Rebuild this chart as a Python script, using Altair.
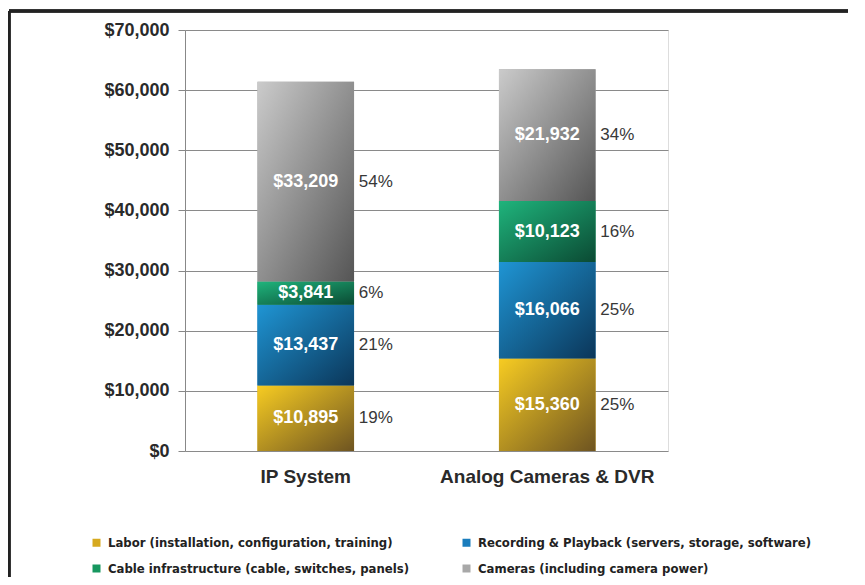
import altair as alt
import pandas as pd

systems = ["IP System", "Analog Cameras & DVR"]
components = [
    "Labor (installation, configuration, training)",
    "Recording & Playback (servers, storage, software)",
    "Cable infrastructure (cable, switches, panels)",
    "Cameras (including camera power)",
]
ip_values = [10895, 13437, 3841, 33209]
analog_values = [15360, 16066, 10123, 21932]
ip_pct = [19, 21, 6, 54]
analog_pct = [25, 25, 16, 34]
y_ticks = [0, 10000, 20000, 30000, 40000, 50000, 60000, 70000]

flat_colors = ["#d6a91f", "#1a7dbd", "#17975f", "#a8a8a8"]
gradients = [
    ("#f7cc22", "#6e5421"),
    ("#1f95d4", "#0b3659"),
    ("#1fb47c", "#0b4a33"),
    ("#cbcbcb", "#555555"),
]
# legend reading order (column-major fill gives two rows as in the original)
legend_order = [0, 2, 1, 3]

rows = []
for s, vals, pcts in [(systems[0], ip_values, ip_pct), (systems[1], analog_values, analog_pct)]:
    for i, (c, v, p) in enumerate(zip(components, vals, pcts)):
        rows.append({"system": s, "component": c, "order": i, "value": v, "pct": p})
df = pd.DataFrame(rows)

FONT = "Liberation Sans"
LEGEND_FONT = "Liberation Sans Narrow, DejaVu Sans Condensed, Roboto Condensed, Liberation Sans"

base = alt.Chart(df).transform_stack(
    stack="value", groupby=["system"], sort=[alt.SortField("order")], as_=["y0", "y1"]
).transform_calculate(
    mid="(datum.y0 + datum.y1) / 2",
    pct_label="datum.pct + '%'",
)

x_enc = alt.X(
    "system:N",
    sort=systems,
    scale=alt.Scale(paddingInner=0.6, paddingOuter=0.3),
    axis=alt.Axis(
        title=None, labelAngle=0, labelFontSize=19, labelFontWeight="bold",
        labelColor="#2a2a2a", labelFont=FONT, ticks=False, domain=False, labelPadding=16,
        labelLimit=400,
    ),
)
y_scale = alt.Scale(domain=[0, 70000], nice=False)
y_enc = alt.Y(
    "y0:Q",
    scale=y_scale,
    axis=alt.Axis(
        title=None, values=y_ticks, format="$,.0f", labelFontSize=18, labelFontWeight="bold",
        labelColor="#2a2a2a", labelFont=FONT, tickSize=7, tickColor="#888888",
        domainColor="#888888", gridColor="#8a8a8a", gridOpacity=1, labelPadding=9,
    ),
)

legend_bars = base.mark_bar().encode(
    x=x_enc,
    y=y_enc,
    y2="y1:Q",
    color=alt.Color(
        "component:N",
        scale=alt.Scale(
            domain=[components[i] for i in legend_order],
            range=[flat_colors[i] for i in legend_order],
        ),
        legend=alt.Legend(
            title=None, orient="none", legendX=-95, legendY=506, columns=2,
            symbolType="square", symbolSize=64, symbolStrokeWidth=0,
            labelFont=LEGEND_FONT, labelFontSize=13, labelFontWeight="bold",
            labelColor="#222222", columnPadding=50, rowPadding=12, labelOffset=5,
            labelLimit=500,
        ),
    ),
)

layers = [legend_bars]
for comp, (c1, c2) in zip(components, gradients):
    layers.append(
        base.transform_filter(alt.datum.component == comp).mark_bar(
            color=alt.Gradient(
                gradient="linear", x1=0, y1=0, x2=1, y2=1,
                stops=[alt.GradientStop(offset=0, color=c1), alt.GradientStop(offset=1, color=c2)],
            )
        ).encode(x=alt.X("system:N", sort=systems), y=alt.Y("y0:Q", scale=y_scale), y2="y1:Q")
    )

value_labels = base.mark_text(
    color="white", fontSize=18, fontWeight="bold", font=FONT, baseline="middle"
).encode(
    x=alt.X("system:N", sort=systems),
    y=alt.Y("mid:Q", scale=y_scale),
    text=alt.Text("value:Q", format="$,.0f"),
)

pct_labels = base.mark_text(
    color="#383838", fontSize=17, font=FONT, align="left", baseline="middle", dx=53
).encode(
    x=alt.X("system:N", sort=systems),
    y=alt.Y("mid:Q", scale=y_scale),
    text="pct_label:N",
)

frame_top = alt.Chart(df).mark_rule(color="#222222", strokeWidth=2.5).encode(
    x=alt.value(-176), x2=alt.value(900), y=alt.value(-19)
)
frame_left = alt.Chart(df).mark_rule(color="#222222", strokeWidth=2.5).encode(
    x=alt.value(-176), y=alt.value(-19), y2=alt.value(600)
)

chart = alt.layer(*layers, value_labels, pct_labels, frame_top, frame_left).properties(
    width=483, height=421,
    autosize=alt.AutoSizeParams(type="none"),
    padding={"left": 177, "top": 22, "right": 180, "bottom": 126},
).configure_view(stroke="#888888", strokeWidth=1.2).configure(background="white")

chart.save("out.html", embed_options={"renderer": "svg", "actions": False})
